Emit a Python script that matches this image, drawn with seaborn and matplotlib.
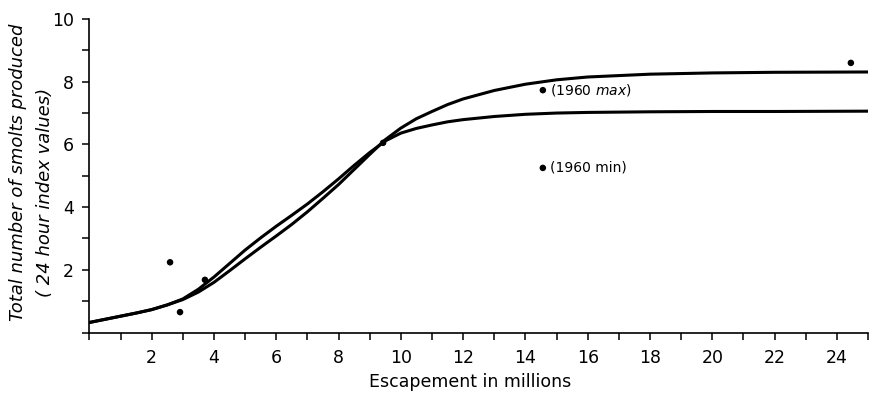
import matplotlib
matplotlib.use("Agg")
import matplotlib.pyplot as plt
import seaborn as sns
import pandas as pd
from matplotlib.ticker import FixedLocator, FuncFormatter

# Curve data
curve_x = [0, 0.5, 1, 1.5, 2, 2.5, 3, 3.5, 4, 4.5, 5, 5.5, 6, 6.5, 7, 7.5, 8, 8.5,
           9, 9.5, 10, 10.5, 11, 11.5, 12, 13, 14, 15, 16, 18, 20, 22, 25]
curve_low = [0.32, 0.42, 0.52, 0.62, 0.73, 0.88, 1.07, 1.38, 1.77, 2.20, 2.63, 3.02,
             3.39, 3.74, 4.10, 4.49, 4.90, 5.33, 5.74, 6.11, 6.36, 6.51, 6.62, 6.72,
             6.79, 6.89, 6.96, 7.00, 7.02, 7.04, 7.05, 7.05, 7.06]
curve_high = [0.32, 0.42, 0.52, 0.62, 0.73, 0.88, 1.05, 1.29, 1.60, 1.97, 2.35, 2.72,
              3.08, 3.45, 3.85, 4.28, 4.72, 5.20, 5.68, 6.15, 6.52, 6.82, 7.05, 7.27,
              7.45, 7.72, 7.92, 8.06, 8.15, 8.24, 8.28, 8.30, 8.31]

# Observed points
pts_x = [2.59, 2.91, 3.71, 9.43, 14.56, 14.56, 24.45]
pts_y = [2.24, 0.65, 1.68, 6.05, 7.73, 5.25, 8.60]
annot_labels = ["(1960 $\\it{max}$)", "(1960 min)"]
annot_idx = [4, 5]

x_ticks = list(range(0, 26))
y_ticks = list(range(0, 11))

sns.set_style("ticks")
plt.rcParams['font.family'] = ['DejaVu Sans']
plt.rcParams['text.color'] = 'black'
plt.rcParams['axes.labelcolor'] = 'black'

fig = plt.figure(figsize=(8.69, 3.95), dpi=100)
ax = fig.add_axes([89.4/869, (395-332.5)/395, (868-89.4)/869, 313.5/395])

df_low = pd.DataFrame({"x": curve_x, "y": curve_low})
df_high = pd.DataFrame({"x": curve_x, "y": curve_high})
sns.lineplot(data=df_low, x="x", y="y", ax=ax, color="black", lw=2.2, sort=False)
sns.lineplot(data=df_high, x="x", y="y", ax=ax, color="black", lw=2.2, sort=False)
sns.scatterplot(x=pts_x, y=pts_y, ax=ax, color="black", s=22, edgecolor="none", zorder=5)

for lab, i in zip(annot_labels, annot_idx):
    ax.annotate(lab, (pts_x[i], pts_y[i]), xytext=(5, 0), textcoords="offset points",
                ha="left", va="center", fontsize=10, color="black")

ax.set_xlim(0, 25)
ax.set_ylim(0, 10)
ax.xaxis.set_major_locator(FixedLocator(x_ticks))
ax.yaxis.set_major_locator(FixedLocator(y_ticks))
fmt = FuncFormatter(lambda v, p: (str(int(v)) if (int(round(v)) % 2 == 0 and v > 0) else ""))
ax.xaxis.set_major_formatter(fmt)
ax.yaxis.set_major_formatter(fmt)
ax.tick_params(axis="both", direction="out", length=5, width=1.1, color="black",
               labelsize=12.5, labelcolor="black")
ax.tick_params(axis="x", pad=7)
ax.tick_params(axis="y", pad=6)
for s in ["top", "right"]:
    ax.spines[s].set_visible(False)
for s in ["left", "bottom"]:
    ax.spines[s].set_color("black")
    ax.spines[s].set_linewidth(1.2)

ax.set_xlabel("")
ax.set_ylabel("")
fig.text(470/869, 1 - 382/395, "Escapement in millions", ha="center", va="center",
         fontsize=12.5, color="black")
fig.text(18/869, 1 - 172/395, "Total number of smolts produced", rotation=90,
         ha="center", va="center", fontsize=13, style="italic", color="black")
fig.text(45/869, 1 - 192/395, "( 24 hour index values)", rotation=90,
         ha="center", va="center", fontsize=13, style="italic", color="black")

fig.savefig("out.png", dpi=100)
